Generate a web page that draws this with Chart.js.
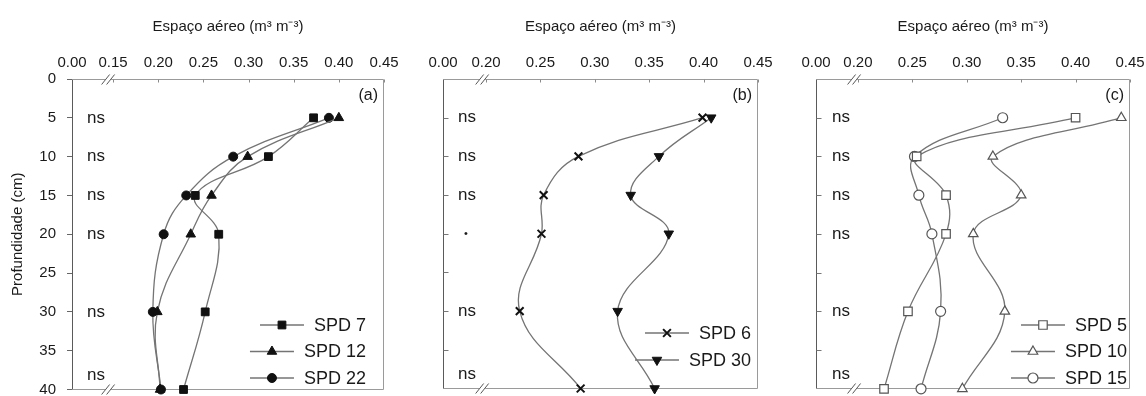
<!DOCTYPE html>
<html>
<head>
<meta charset="utf-8">
<script src="https://cdn.jsdelivr.net/npm/chart.js@4.4.1/dist/chart.umd.min.js"></script>
<style>
  html, body { margin: 0; padding: 0; background: #fff; }
  #wrap { position: relative; width: 1146px; height: 396px; overflow: hidden; }
  .panel { position: absolute; top: 0; height: 396px; }
</style>
</head>
<body>
<div id="wrap">
  <div class="panel" style="left:0;width:400px"><canvas id="panelA"></canvas></div>
  <div class="panel" style="left:400px;width:380px"><canvas id="panelB"></canvas></div>
  <div class="panel" style="left:780px;width:366px"><canvas id="panelC"></canvas></div>
</div>
<script>
// Sampling depths (cm) and depth-axis ticks
const depths = [5, 10, 15, 20, 30, 40];
const depthTicks = [0, 5, 10, 15, 20, 25, 30, 35, 40];

// Air-filled porosity axis ticks (after the axis break)
const ticksA = [0.15, 0.20, 0.25, 0.30, 0.35, 0.40, 0.45];
const ticksBC = [0.20, 0.25, 0.30, 0.35, 0.40, 0.45];

// Air-filled porosity (m3 m-3) per depth
const spd7  = [0.372, 0.322, 0.241, 0.267, 0.252, 0.228];
const spd12 = [0.400, 0.299, 0.259, 0.236, 0.199, 0.202];
const spd22 = [0.389, 0.283, 0.231, 0.206, 0.194, 0.203];

const spd6  = [0.399, 0.285, 0.253, 0.251, 0.231, 0.287];
const spd30 = [0.407, 0.359, 0.333, 0.368, 0.321, 0.355];

const spd5  = [0.400, 0.254, 0.281, 0.281, 0.246, 0.224];
const spd10 = [0.442, 0.324, 0.350, 0.306, 0.335, 0.296];
const spd15 = [0.333, 0.252, 0.256, 0.268, 0.276, 0.258];

// Significance labels per depth
const sigA = ['ns', 'ns', 'ns', 'ns', 'ns', 'ns'];
const sigB = ['ns', 'ns', 'ns', '•', 'ns', 'ns'];
const sigC = ['ns', 'ns', 'ns', 'ns', 'ns', 'ns'];

const FAMILY = '"Liberation Sans", Arial, sans-serif';
const TEXT = '#1a1a1a';
const LINE = '#747474';

// Frame, inward ticks, axis break marks, significance labels, panel letter and legend
const panelDecor = {
  id: 'panelDecor',
  beforeDatasetsDraw(chart, args, o) {
    const { ctx, chartArea: a, scales: { x, y } } = chart;
    ctx.save();
    ctx.lineWidth = 1;
    const L = Math.round(a.left) + 0.5, R = Math.round(a.right) - 0.5;
    const T = Math.round(a.top) + 0.5, B = Math.round(a.bottom) - 0.5;
    // top, right, bottom edges
    ctx.strokeStyle = '#9a9a9a';
    ctx.beginPath();
    ctx.moveTo(L, T); ctx.lineTo(R, T); ctx.lineTo(R, B); ctx.lineTo(L, B);
    ctx.stroke();
    // left axis
    ctx.strokeStyle = '#5a5a5a';
    ctx.beginPath(); ctx.moveTo(L, T); ctx.lineTo(L, B); ctx.stroke();
    // small inward ticks on the top axis
    ctx.strokeStyle = '#8a8a8a';
    x.ticks.slice(1).forEach(t => {
      const px = Math.round(x.getPixelForValue(t.value)) + 0.5;
      ctx.beginPath(); ctx.moveTo(px, T); ctx.lineTo(px, T + 3); ctx.stroke();
    });
    // inward depth ticks where the depth axis has no labels
    if (o.innerYTicks) {
      ctx.strokeStyle = '#777';
      depthTicks.slice(1, -1).forEach(v => {
        const py = Math.round(y.getPixelForValue(v)) + 0.5;
        ctx.beginPath(); ctx.moveTo(L, py); ctx.lineTo(L + 5, py); ctx.stroke();
      });
    }
    // axis break marks on top and bottom edges
    const bx = x.getPixelForValue(o.breakAt);
    [T, B].forEach(ey => {
      ctx.fillStyle = '#fff';
      ctx.fillRect(bx - 3, ey - 1.5, 6, 3);
      ctx.strokeStyle = '#555';
      ctx.lineWidth = 1;
      [-2.5, 2.5].forEach(d => {
        ctx.beginPath();
        ctx.moveTo(bx + d - 4, ey + 5);
        ctx.lineTo(bx + d + 4, ey - 5);
        ctx.stroke();
      });
    });
    ctx.restore();
  },
  afterDatasetsDraw(chart, args, o) {
    const { ctx, chartArea: a, scales: { y } } = chart;
    ctx.save();
    // significance labels
    ctx.fillStyle = TEXT;
    ctx.textBaseline = 'middle';
    ctx.textAlign = 'left';
    o.sig.forEach((s, i) => {
      const py = Math.min(y.getPixelForValue(depths[i]), a.bottom - 14);
      if (s === '•') {
        ctx.font = '11px ' + FAMILY;
        ctx.fillText(s, a.left + o.sigOffset + 6, py);
      } else {
        ctx.font = '17px ' + FAMILY;
        ctx.fillText(s, a.left + o.sigOffset, py);
      }
    });
    // panel letter
    ctx.font = '16px ' + FAMILY;
    ctx.textAlign = 'right';
    ctx.fillText(o.letter, a.right - 6, a.top + 17);
    // legend
    ctx.font = '18px ' + FAMILY;
    chart.data.datasets.forEach((ds, i) => {
      const ry = a.top + o.legendTop + i * o.legendGap;
      const tr = a.right - o.legendRight;
      const tw = ctx.measureText(ds.label).width;
      const x1 = tr - tw - 10, x0 = x1 - 44;
      ctx.strokeStyle = ds.borderColor;
      ctx.lineWidth = ds.borderWidth;
      ctx.beginPath(); ctx.moveTo(x0, ry); ctx.lineTo(x1, ry); ctx.stroke();
      ctx.fillStyle = ds.pointBackgroundColor;
      ctx.strokeStyle = ds.pointBorderColor;
      ctx.lineWidth = ds.pointBorderWidth;
      Chart.helpers.drawPoint(ctx, {
        pointStyle: ds.pointStyle, rotation: ds.pointRotation || 0,
        radius: ds.pointRadius, borderWidth: ds.pointBorderWidth
      }, (x0 + x1) / 2, ry);
      ctx.fillStyle = TEXT;
      ctx.textAlign = 'right';
      ctx.fillText(ds.label, tr, ry + 1);
    });
    ctx.restore();
  }
};

function series(label, values, style) {
  return Object.assign({
    label,
    data: depths.map((d, i) => ({ x: values[i], y: d })),
    borderColor: LINE,
    borderWidth: 1.3,
    tension: 0.4,
    fill: false,
    clip: false,
    pointRotation: 0,
    pointHoverRadius: 0
  }, style);
}

function makePanel(id, p) {
  return new Chart(document.getElementById(id), {
    type: 'line',
    data: { datasets: p.datasets },
    options: {
      indexAxis: 'y',
      responsive: true,
      maintainAspectRatio: false,
      animation: false,
      events: [],
      layout: { padding: { left: 0, top: 0, right: p.padRight, bottom: 4 } },
      plugins: {
        legend: { display: false },
        tooltip: { enabled: false },
        panelDecor: p.decor
      },
      scales: {
        x: {
          type: 'linear',
          position: 'top',
          min: p.xMin,
          max: 0.45,
          afterBuildTicks: s => { s.ticks = [p.xMin, ...p.xTicks].map(v => ({ value: v })); },
          afterFit: s => { s.height = 79; s.paddingLeft = 0; s.paddingRight = 0; },
          grid: { display: false, drawTicks: false },
          border: { display: false },
          ticks: {
            padding: 7, color: TEXT, autoSkip: false, maxRotation: 0,
            font: { size: 15, family: FAMILY },
            callback: v => (v === p.xMin ? '0.00' : v.toFixed(2))
          },
          title: {
            display: true, text: 'Espaço aéreo (m³ m⁻³)', color: TEXT,
            font: { size: 15, family: FAMILY }, padding: { top: 18, bottom: 0 }
          }
        },
        y: {
          type: 'linear',
          reverse: true,
          min: 0,
          max: 40,
          afterBuildTicks: s => { s.ticks = depthTicks.map(v => ({ value: v })); },
          afterFit: s => { s.width = p.yWidth; s.paddingTop = 0; s.paddingBottom = 0; },
          grid: { display: p.showY, drawOnChartArea: false, drawTicks: true, tickLength: 5, color: '#666' },
          border: { display: false },
          ticks: { display: p.showY, padding: 11, color: TEXT, font: { size: 15, family: FAMILY } },
          title: {
            display: p.showY, text: 'Profundidade (cm)', color: TEXT,
            font: { size: 15, family: FAMILY }, padding: { top: 9, bottom: 0 }
          }
        }
      }
    },
    plugins: [panelDecor]
  });
}

const solid = (style, r, extra) => Object.assign({
  pointStyle: style, pointRadius: r, pointBackgroundColor: '#111',
  pointBorderColor: '#111', pointBorderWidth: 1
}, extra || {});
const open = (style, r) => ({
  pointStyle: style, pointRadius: r, pointBackgroundColor: '#fff',
  pointBorderColor: '#555', pointBorderWidth: 1.2
});

makePanel('panelA', {
  xMin: 0.1045, xTicks: ticksA, yWidth: 72, padRight: 16, showY: true,
  datasets: [
    series('SPD 7', spd7, solid('rect', 5.5)),
    series('SPD 12', spd12, solid('triangle', 5.5)),
    series('SPD 22', spd22, solid('circle', 4.5))
  ],
  decor: { breakAt: 0.1445, innerYTicks: false, sig: sigA, sigOffset: 15, letter: '(a)',
           legendTop: 246, legendGap: 26.5, legendRight: 18 }
});

makePanel('panelB', {
  xMin: 0.1605, xTicks: ticksBC, yWidth: 43, padRight: 22, showY: false,
  datasets: [
    series('SPD 6', spd6, solid('crossRot', 5.5, { pointBorderWidth: 2 })),
    series('SPD 30', spd30, solid('triangle', 5.5, { pointRotation: 180 }))
  ],
  decor: { breakAt: 0.1965, innerYTicks: true, sig: sigB, sigOffset: 15, letter: '(b)',
           legendTop: 254, legendGap: 27, legendRight: 7 }
});

makePanel('panelC', {
  xMin: 0.1615, xTicks: ticksBC, yWidth: 36, padRight: 16, showY: false,
  datasets: [
    series('SPD 5', spd5, open('rect', 6)),
    series('SPD 10', spd10, open('triangle', 5.5)),
    series('SPD 15', spd15, open('circle', 5))
  ],
  decor: { breakAt: 0.1965, innerYTicks: true, sig: sigC, sigOffset: 16, letter: '(c)',
           legendTop: 246, legendGap: 26.5, legendRight: 3 }
});
</script>
</body>
</html>
